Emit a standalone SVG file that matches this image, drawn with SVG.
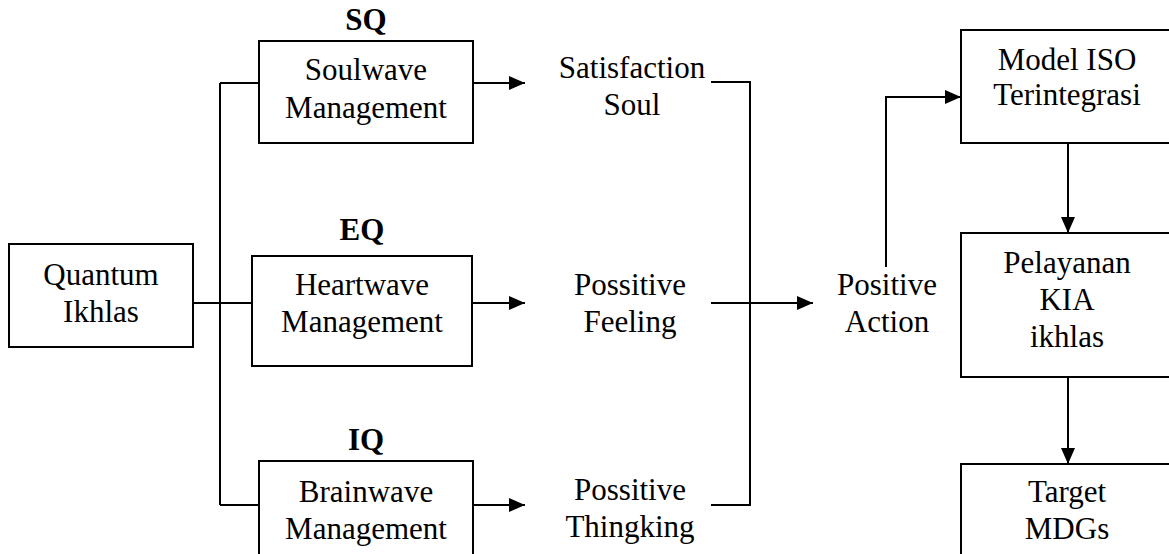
<svg xmlns="http://www.w3.org/2000/svg" width="1169" height="554" viewBox="0 0 1169 554">
<style>
.box{fill:#fff;stroke:#000;stroke-width:2}
text{font-family:'Liberation Serif','Times New Roman',Times,serif;font-size:31px;fill:#000;text-anchor:middle}
.b{font-weight:bold}
.c{fill:none;stroke:#000;stroke-width:2}
</style>
<defs>
<marker id="ah" markerWidth="16" markerHeight="14" refX="16" refY="7" orient="auto" markerUnits="userSpaceOnUse"><path d="M0,0 L16,7 L0,14 z" fill="#000"/></marker>
</defs>
<rect width="1169" height="554" fill="#fff"/>
<g id="connectors">
<path class="c" d="M220,83 V505"/>
<path class="c" d="M220,83 H259"/>
<path class="c" d="M193,303 H252"/>
<path class="c" d="M220,505 H259"/>
<path class="c" d="M473,83 H525" marker-end="url(#ah)"/>
<path class="c" d="M472,303 H525" marker-end="url(#ah)"/>
<path class="c" d="M473,505 H525" marker-end="url(#ah)"/>
<path class="c" d="M711,82 H750 V505 H711"/>
<path class="c" d="M711,303 H813" marker-end="url(#ah)"/>
<path class="c" d="M886,267 V97 H961" marker-end="url(#ah)"/>
<path class="c" d="M1068,143 V233" marker-end="url(#ah)"/>
<path class="c" d="M1068,377 V464" marker-end="url(#ah)"/>
</g>
<g id="quantum">
<rect class="box" x="9" y="244" width="184" height="103"/>
<text x="101" y="285">Quantum</text>
<text x="101" y="322">Ikhlas</text>
</g>
<g id="soulwave">
<text class="b" x="366" y="30">SQ</text>
<rect class="box" x="259" y="41" width="214" height="102"/>
<text x="366" y="80">Soulwave</text>
<text x="366" y="118">Management</text>
</g>
<g id="heartwave">
<text class="b" x="362" y="240">EQ</text>
<rect class="box" x="252" y="256" width="220" height="110"/>
<text x="362" y="295">Heartwave</text>
<text x="362" y="332">Management</text>
</g>
<g id="brainwave">
<text class="b" x="366" y="450">IQ</text>
<rect class="box" x="259" y="461" width="214" height="110"/>
<text x="366" y="502">Brainwave</text>
<text x="366" y="539">Management</text>
</g>
<g id="satisfaction">
<text x="632" y="78">Satisfaction</text>
<text x="632" y="115">Soul</text>
</g>
<g id="feeling">
<text x="630" y="295">Possitive</text>
<text x="630" y="332">Feeling</text>
</g>
<g id="thinking">
<text x="630" y="500">Possitive</text>
<text x="630" y="537">Thingking</text>
</g>
<g id="action">
<text x="887" y="295">Positive</text>
<text x="887" y="332">Action</text>
</g>
<g id="model">
<rect class="box" x="961" y="30" width="215" height="113"/>
<text x="1067" y="70">Model ISO</text>
<text x="1067" y="105">Terintegrasi</text>
</g>
<g id="pelayanan">
<rect class="box" x="961" y="233" width="215" height="144"/>
<text x="1067" y="273">Pelayanan</text>
<text x="1067" y="310">KIA</text>
<text x="1067" y="347">ikhlas</text>
</g>
<g id="target">
<rect class="box" x="961" y="464" width="215" height="110"/>
<text x="1067" y="502">Target</text>
<text x="1067" y="539">MDGs</text>
</g>
</svg>
